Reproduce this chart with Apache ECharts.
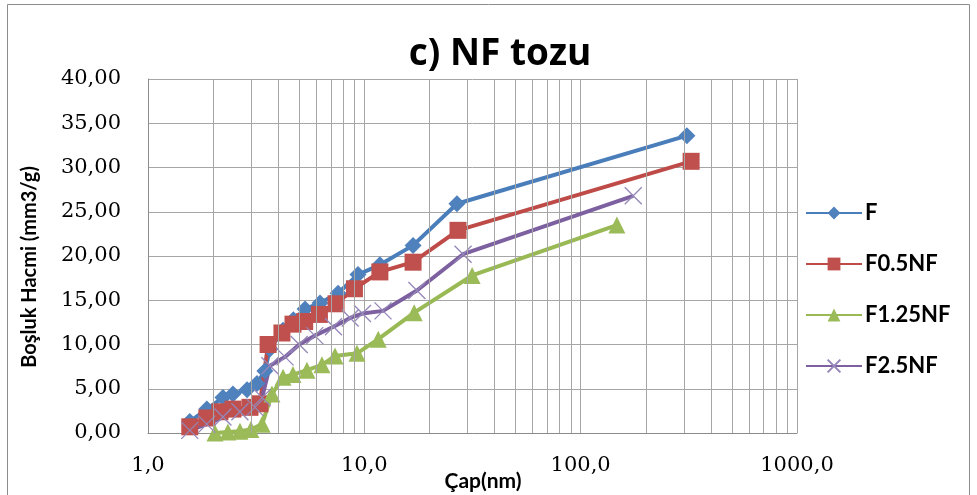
<!DOCTYPE html>
<html>
<head>
<meta charset="utf-8">
<script src="https://cdn.jsdelivr.net/npm/echarts@6/dist/echarts.min.js"></script>
<style>
  html, body { margin: 0; padding: 0; background: #ffffff; }
  #chart { width: 977px; height: 495px; }
</style>
</head>
<body>
<div id="chart"></div>
<script>
// Pore diameter (nm) and cumulative pore volume (mm3/g) for each powder
const diamF   = [1.56, 1.87, 2.22, 2.47, 2.87, 3.19, 3.47, 3.66, 4.21, 4.70, 5.32, 6.24, 7.56, 9.35, 11.8, 16.8, 26.8, 310];
const volF    = [1.3,  2.7,  4.0,  4.4,  4.9,  5.6,  7.0,  9.5,  11.6, 12.8, 14.0, 14.7, 15.8, 17.9, 19.0, 21.2, 25.9, 33.6];

const diamF05 = [1.56, 1.87, 2.15, 2.47, 2.96, 3.29, 3.59, 4.16, 4.68, 5.30, 6.20, 7.40, 9.00, 11.8, 16.8, 27.1, 324];
const volF05  = [0.7,  1.7,  2.4,  2.7,  2.9,  3.3,  10.0, 11.3, 12.3, 12.6, 13.4, 14.6, 16.3, 18.2, 19.3, 22.9, 30.7];

const diamF125 = [2.04, 2.34, 2.66, 2.99, 3.37, 3.74, 4.21, 4.68, 5.43, 6.37, 7.32, 9.25, 11.6, 17.0, 31.5, 147];
const volF125  = [0.0,  0.1,  0.2,  0.4,  1.0,  4.4,  6.3,  6.6,  7.1,  7.7,  8.7,  9.0,  10.6, 13.6, 17.8, 23.5];

const diamF25 = [1.56, 1.87, 2.22, 2.66, 3.12, 3.37, 3.66, 4.30, 5.00, 5.90, 7.20, 8.60, 9.80, 12.2, 17.5, 28.6, 175];
const volF25  = [0.3,  1.0,  1.8,  2.4,  2.9,  4.0,  7.6,  8.6,  10.0, 11.0, 12.0, 13.0, 13.5, 13.8, 16.1, 20.2, 26.8];

const seriesNames = ['F', 'F0.5NF', 'F1.25NF', 'F2.5NF'];

// Intermediate decade lines (2..9, 20..90, 200..900) of the log axis
const minorGrid = [];
[1, 10, 100].forEach(d => { for (let k = 2; k <= 9; k++) minorGrid.push(k * d); });

const pairs = (xs, ys) => xs.map((x, i) => [x, ys[i]]);

const GRID = '#a6a6a6';
const crossPath = 'path://M0,0L10,10M10,0L0,10';

const chart = echarts.init(document.getElementById('chart'), null, { renderer: 'canvas' });

const lineSeries = (name, data, color, markColor, symbol, size, extraItem) => ({
  name: name,
  type: 'line',
  data: data,
  z: 3,
  symbol: symbol,
  symbolSize: size,
  showAllSymbol: true,
  smooth: false,
  lineStyle: { color: color, width: 4 },
  itemStyle: Object.assign({ color: markColor }, extraItem || {}),
  emphasis: { disabled: true },
  animation: false
});

chart.setOption({
  animation: false,
  backgroundColor: '#ffffff',
  title: {
    text: 'c) NF tozu',
    left: 495, top: 31, textAlign: 'center',
    textStyle: { fontFamily: 'Open Sans', fontWeight: 'bold', fontSize: 37, color: '#000000' }
  },
  grid: { left: 148, right: 180, top: 79, bottom: 62, containLabel: false },
  legend: {
    orient: 'vertical',
    left: 800, top: 197,
    itemWidth: 56, itemHeight: 16,
    itemGap: 29,
    data: seriesNames,
    textStyle: { fontFamily: 'Lato', fontWeight: 'bold', fontSize: 22, color: '#000000', padding: [0, 0, 0, -2] }
  },
  xAxis: {
    type: 'log', logBase: 10, min: 1, max: 1000,
    axisLine: { show: true, lineStyle: { color: '#8c8c8c', width: 1 } },
    axisTick: { show: false },
    splitLine: { show: true, lineStyle: { color: GRID, width: 1 } },
    axisLabel: {
      margin: 22,
      fontFamily: 'DejaVu Serif', fontSize: 21, color: '#000000',
      formatter: v => v.toFixed(1).replace('.', ',')
    }
  },
  yAxis: {
    type: 'value', min: 0, max: 40, interval: 5,
    axisLine: { show: true, lineStyle: { color: '#8c8c8c', width: 1 } },
    axisTick: { show: false },
    splitLine: { show: true, lineStyle: { color: GRID, width: 1 } },
    axisLabel: {
      margin: 27,
      fontFamily: 'DejaVu Serif', fontSize: 21, color: '#000000',
      formatter: v => v.toFixed(2).replace('.', ',')
    }
  },
  graphic: [
    {
      type: 'rect', silent: true, z: -1,
      shape: { x: 7.5, y: 4.5, width: 962, height: 500 },
      style: { fill: 'none', stroke: '#8c8c8c', lineWidth: 1 }
    },
    {
      type: 'text', silent: true,
      x: 30, y: 267, rotation: Math.PI / 2,
      style: {
        text: 'Boşluk Hacmi (mm3/g)', align: 'center', verticalAlign: 'middle',
        font: 'bold 20px Lato', fill: '#000000'
      }
    },
    {
      type: 'text', silent: true,
      x: 483, y: 481,
      style: {
        text: 'Çap(nm)', align: 'center', verticalAlign: 'middle',
        font: 'bold 21px Lato', fill: '#000000'
      }
    }
  ],
  series: [
    {
      name: 'minor-grid', type: 'line', data: [], z: 1, silent: true,
      markLine: {
        silent: true, symbol: ['none', 'none'], animation: false,
        label: { show: false },
        lineStyle: { color: GRID, width: 1, type: 'solid' },
        emphasis: { disabled: true },
        data: minorGrid.map(v => ({ xAxis: v }))
      }
    },
    lineSeries('F', pairs(diamF, volF), '#4a7ebb', '#4f81bd', 'diamond', 17),
    lineSeries('F0.5NF', pairs(diamF05, volF05), '#be4b48', '#c0504d', 'rect', 17),
    lineSeries('F1.25NF', pairs(diamF125, volF125), '#98b954', '#9bbb59', 'triangle', 17),
    lineSeries('F2.5NF', pairs(diamF25, volF25), '#7d60a0', 'rgba(0,0,0,0)', crossPath, 17,
      { borderColor: '#9486b8', borderWidth: 1.3 })
  ]
});
</script>
</body>
</html>
